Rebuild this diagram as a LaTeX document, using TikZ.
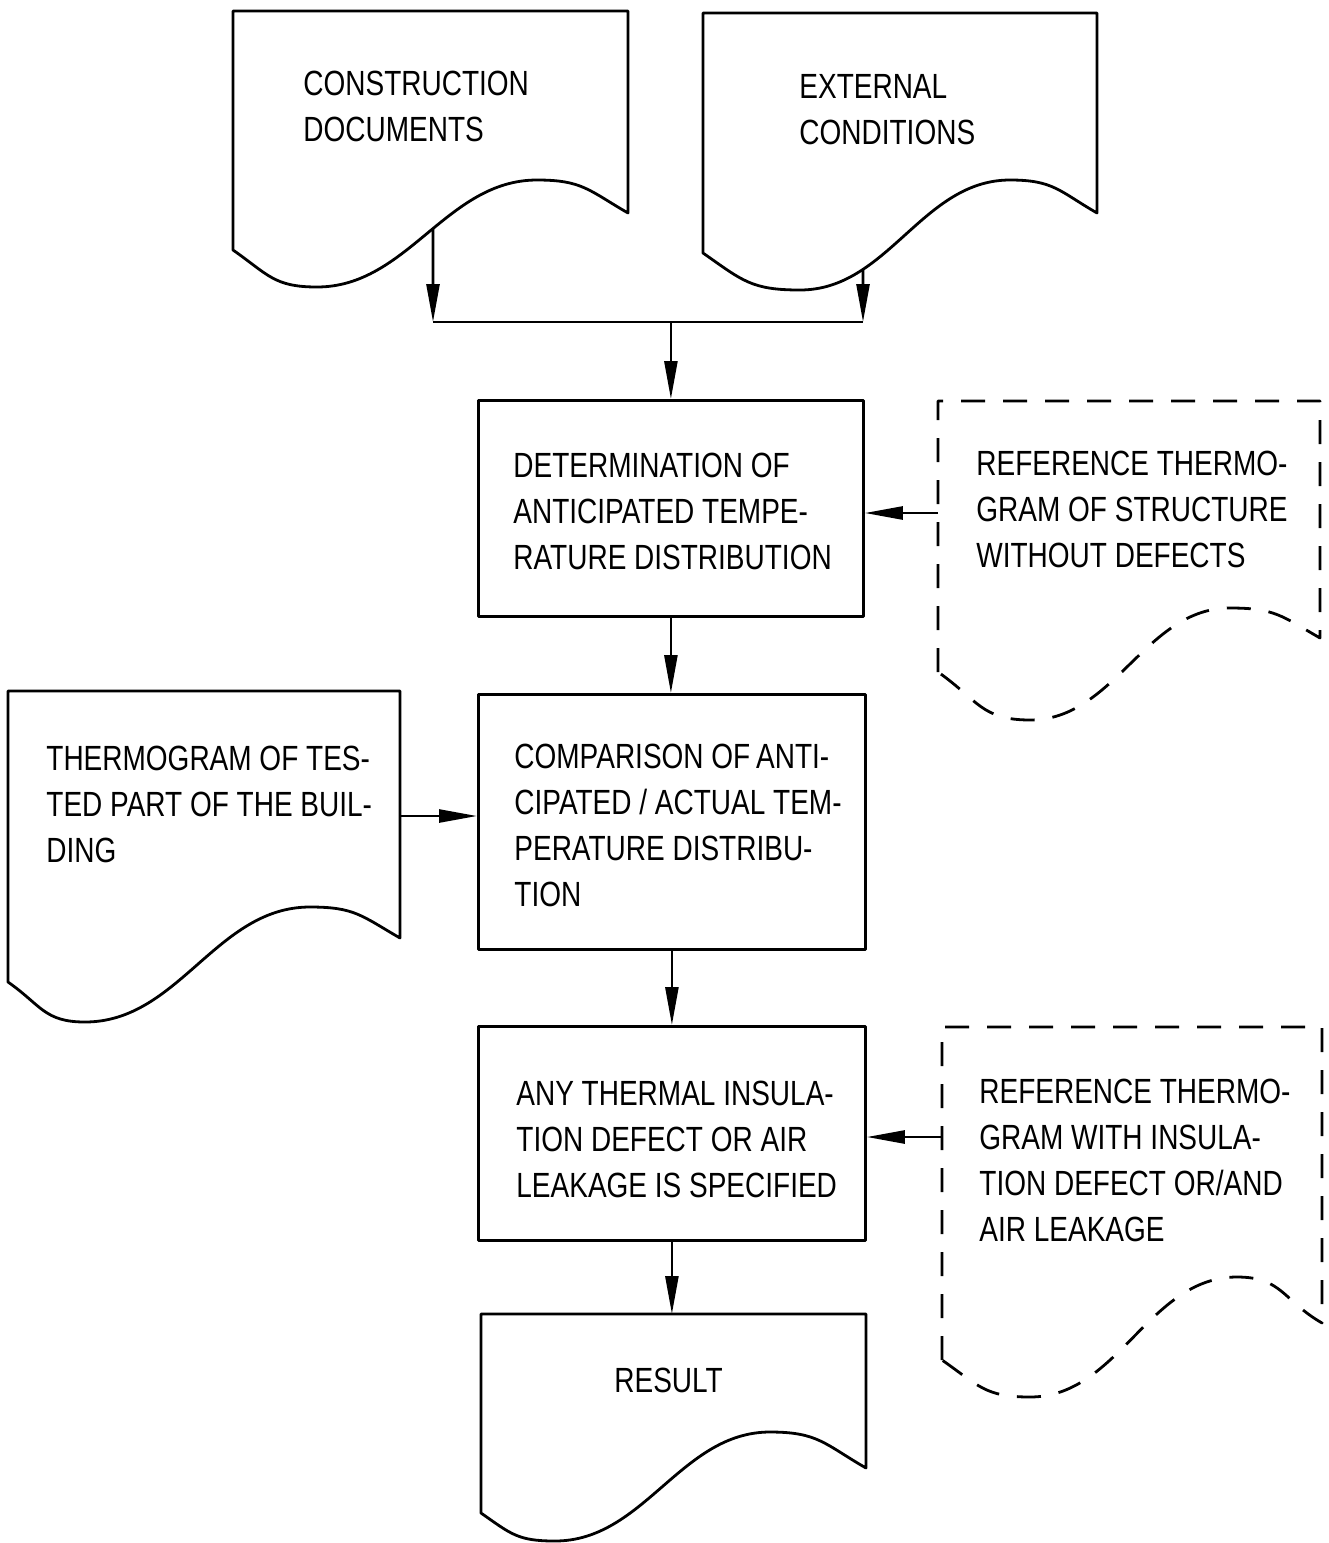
\documentclass[tikz,border=0pt]{standalone}
\usepackage{fontspec}
\setmainfont{Liberation Sans}[FakeStretch=0.8]
\usetikzlibrary{arrows.meta,intersections}
\begin{document}
\begin{tikzpicture}[x=1pt,y=-1pt, line width=2.8pt, line join=round,
  lbl/.style={anchor=north west, inner sep=0pt, align=left, font=\fontsize{35}{46}\selectfont},
  procbox/.style={draw, rectangle, inner sep=0pt, anchor=north west},
  dashdoc/.style={dash pattern=on 24pt off 18pt},
  arr/.style={-{Triangle[length=38pt,width=13pt]}, line width=2.6pt},
  wend/.style={looseness=1.2},
  wmid/.style={looseness=0.95}]
\useasboundingbox (0,0) rectangle (1329,1543);

% process boxes
\node[procbox, minimum width=385pt, minimum height=216pt] (det) at (477,399) {};
\node[procbox, minimum width=387pt, minimum height=255pt] (cmp) at (477,693) {};
\node[procbox, minimum width=387pt, minimum height=214pt] (any) at (477,1025) {};

% documents
\draw[name path=w1] (233,250) -- (233,11) -- (628,11) -- (628,213)
  to[out=150,in=0,wend] (537,180) to[out=180,in=0,wmid] (317,287)
  to[out=180,in=-35,wend] (233,250) -- cycle;
\draw[name path=w2] (703,253) -- (703,13) -- (1097,13) -- (1097,213)
  to[out=150,in=0,wend] (1010,180) to[out=180,in=0,wmid] (800,290)
  to[out=180,in=-35,wend] (703,253) -- cycle;
\draw[dashdoc] (938,672) -- (938,401) -- (1320,401) -- (1320,638)
  to[out=150,in=0,wend] (1230,608) to[out=180,in=0,wmid] (1030,720)
  to[out=180,in=-35,wend] (938,672) -- cycle;
\draw (8,982) -- (8,691) -- (400,691) -- (400,938)
  to[out=150,in=0,wend] (310,907) to[out=180,in=0,wmid] (85,1022)
  to[out=180,in=-35,wend] (8,982) -- cycle;
\draw[dashdoc] (942,1360) -- (942,1027) -- (1322,1027) -- (1322,1323)
  to[out=150,in=0,wend] (1237,1277) to[out=180,in=0,wmid] (1030,1397)
  to[out=180,in=-35,wend] (942,1360) -- cycle;
\draw (481,1513) -- (481,1314) -- (866,1314) -- (866,1468)
  to[out=150,in=0,wend] (770,1432) to[out=180,in=0,wmid] (555,1541)
  to[out=180,in=-35,wend] (481,1513) -- cycle;

% named connector points on the documents
\path[name path=v1] (433,150) -- (433,330);
\path[name path=v2] (863,150) -- (863,330);
\path[name intersections={of=w1 and v1, by=cdout}];
\path[name intersections={of=w2 and v2, by=ecout}];
\coordinate (cdjoin) at (433,322);
\coordinate (ecjoin) at (863,322);
\coordinate (join) at (det.north |- cdjoin);
\coordinate (ref1out) at (938,513);
\coordinate (tgout) at (400,816);
\coordinate (ref2out) at (942,1137);
\coordinate (resin) at (any.south |- 0,1314);

% texts
\node[lbl] (cdtext) at (302,70) {CONSTRUCTION\\DOCUMENTS};
\node[lbl] (ectext) at (798,73) {EXTERNAL\\CONDITIONS};
\node[lbl] (dettext) at (512,452) {DETERMINATION OF\\ANTICIPATED TEMPE-\\RATURE DISTRIBUTION};
\node[lbl] (ref1text) at (975,450) {REFERENCE THERMO-\\GRAM OF STRUCTURE\\WITHOUT DEFECTS};
\node[lbl] (tgtext) at (45,745) {THERMOGRAM OF TES-\\TED PART OF THE BUIL-\\DING};
\node[lbl] (cmptext) at (513,743) {COMPARISON OF\,ANTI-\\CIPATED / ACTUAL TEM-\\PERATURE DISTRIBU-\\TION};
\node[lbl] (anytext) at (515,1080) {ANY THERMAL INSULA-\\TION DEFECT OR AIR\\LEAKAGE IS SPECIFIED};
\node[lbl] (ref2text) at (978,1078) {REFERENCE THERMO-\\GRAM WITH INSULA-\\TION DEFECT OR/AND\\AIR LEAKAGE};
\node[lbl] (restext) at (613,1367) {RESULT};

% connectors
\draw[arr] (cdout) -- (cdjoin);
\draw[arr] (ecout) -- (ecjoin);
\draw (cdjoin) -- (ecjoin);
\draw[arr] (join) -- (det.north);
\draw[arr] (ref1out) -- (ref1out -| det.east);
\draw[arr] (det.south) -- (det.south |- cmp.north);
\draw[arr] (tgout) -- (tgout -| cmp.west);
\draw[arr] (cmp.south) -- (cmp.south |- any.north);
\draw[arr] (ref2out) -- (ref2out -| any.east);
\draw[arr] (any.south) -- (resin);
\end{tikzpicture}
\end{document}
